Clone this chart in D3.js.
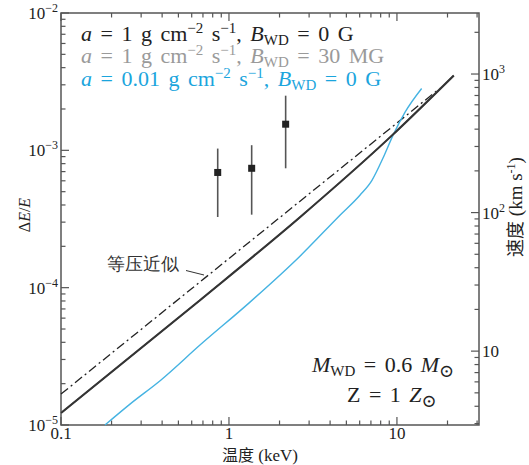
<!DOCTYPE html>
<html><head><meta charset="utf-8">
<script src="https://cdn.jsdelivr.net/npm/d3@7"></script>
<style>
body{margin:0;background:#fff;}
text{font-family:"Liberation Serif","DejaVu Serif",serif;}
</style></head>
<body><svg id="c" width="529" height="465"></svg>
<script>
// ---- data ----
const temperatureKeV_solid = [0.1, 0.672, 2.646, 9.08, 21.8];
const dEE_solid = [1.223e-5, 8.11e-5, 3.26e-4, 1.243e-3, 3.51e-3];
const temperatureKeV_gray = [0.1, 0.672, 2.646, 9.08, 21.8];
const dEE_gray = [1.223e-5, 8.11e-5, 3.26e-4, 1.243e-3, 3.51e-3];
const temperatureKeV_blue = [0.1827, 0.2575, 0.3923, 0.672, 1.334, 2.646, 4.58, 6.02, 7.10, 8.25, 9.47, 11.16, 14.03];
const dEE_blue = [1.0e-5, 1.42e-5, 2.12e-5, 3.82e-5, 7.85e-5, 1.695e-4, 3.37e-4, 4.71e-4, 6.05e-4, 8.75e-4, 1.285e-3, 1.89e-3, 2.82e-3];
const temperatureKeV_isobaric = [0.1, 18.03];
const dEE_isobaric = [1.68e-5, 2.83e-3];
const obsT = [0.857, 1.365, 2.175];
const obsVal = [6.9e-4, 7.4e-4, 1.55e-3];
const obsLo = [3.27e-4, 3.4e-4, 7.4e-4];
const obsHi = [1.03e-3, 1.09e-3, 2.5e-3];
const xTickLabels = ["0.1", "1", "10"];
const yTickExp = ["−2", "−3", "−4", "−5"];
const vTickExp = ["3", "2", ""];

const svg = d3.select("#c");
const L = 61, R = 479, T = 13, B = 425;
const x = d3.scaleLog().domain([0.1, 30.8]).range([L, R]);
const y = d3.scaleLog().domain([1e-5, 1e-2]).range([B, T]);
const yv = d3.scaleLog().domain([2.93, 2757]).range([B, T]);
const axisCol = "#555";

function logTicks(lo, hi) {
  const out = [];
  for (let e = Math.floor(Math.log10(lo)); e <= Math.ceil(Math.log10(hi)); e++) {
    for (let m = 1; m <= 9; m++) {
      const v = m * Math.pow(10, e);
      if (v >= lo * 0.9999 && v <= hi * 1.0001) out.push({v, major: m === 1});
    }
  }
  return out;
}
const g = svg.append("g");
logTicks(0.1, 30.8).forEach(t => {
  const len = t.major ? 8 : 4.5;
  const px = x(t.v);
  g.append("line").attr("x1", px).attr("x2", px).attr("y1", B).attr("y2", B - len).attr("stroke", axisCol).attr("stroke-width", 1.2);
  g.append("line").attr("x1", px).attr("x2", px).attr("y1", T).attr("y2", T + len).attr("stroke", axisCol).attr("stroke-width", 1.2);
});
logTicks(1e-5, 1e-2).forEach(t => {
  const len = t.major ? 8 : 4.5;
  const py = y(t.v);
  g.append("line").attr("x1", L).attr("x2", L + len).attr("y1", py).attr("y2", py).attr("stroke", axisCol).attr("stroke-width", 1.2);
});
logTicks(2.93, 2757).forEach(t => {
  const len = t.major ? 8 : 4.5;
  const py = yv(t.v);
  g.append("line").attr("x1", R).attr("x2", R - len).attr("y1", py).attr("y2", py).attr("stroke", axisCol).attr("stroke-width", 1.2);
});
svg.append("rect").attr("x", L).attr("y", T).attr("width", R - L).attr("height", B - T)
  .attr("fill", "none").attr("stroke", axisCol).attr("stroke-width", 1.5);

// tick labels
[0.1, 1, 10].forEach((v, i) => {
  svg.append("text").attr("x", x(v)).attr("y", 439).attr("text-anchor", "middle")
    .attr("font-size", 17).attr("fill", "#222").text(xTickLabels[i]);
});
[1e-2, 1e-3, 1e-4, 1e-5].forEach((v, i) => {
  const t = svg.append("text").attr("x", 58).attr("y", y(v) + 6).attr("text-anchor", "end")
    .attr("font-size", 17).attr("fill", "#222");
  t.append("tspan").text("10");
  t.append("tspan").attr("dy", -7).attr("font-size", 12).text(yTickExp[i]);
});
[1000, 100, 10].forEach((v, i) => {
  const t = svg.append("text").attr("x", 482).attr("y", yv(v) + 6)
    .attr("font-size", 17).attr("fill", "#222");
  t.append("tspan").text("10");
  if (vTickExp[i]) t.append("tspan").attr("dy", -7).attr("font-size", 12).text(vTickExp[i]);
});

// axis titles
svg.append("text").attr("x", 260).attr("y", 461).attr("text-anchor", "middle").attr("font-size", 17).attr("fill", "#222")
  .html('<tspan font-family="Noto Sans CJK SC" font-size="16">温度</tspan> (keV)');
svg.append("text").attr("transform", "translate(30,215) rotate(-90)").attr("text-anchor", "middle")
  .attr("font-size", 16).attr("fill", "#222")
  .html('Δ<tspan font-style="italic">E</tspan>/<tspan font-style="italic">E</tspan>');
svg.append("text").attr("transform", "translate(522,207) rotate(-90)").attr("text-anchor", "middle")
  .attr("font-size", 19).attr("fill", "#222")
  .html('<tspan font-family="Noto Sans CJK SC" font-size="18">速度</tspan> (km s<tspan dy="-7" font-size="12">-1</tspan><tspan dy="7">)</tspan>');

// curves
const line = d3.line().x(d => x(d[0])).y(d => y(d[1])).curve(d3.curveMonotoneX);
const plot = svg.append("g");
plot.append("path").datum(d3.zip(temperatureKeV_isobaric, dEE_isobaric)).attr("d", line)
  .attr("fill", "none").attr("stroke", "#222").attr("stroke-width", 1.3).attr("stroke-dasharray", "9,3.5,2,3.5");
plot.append("path").datum(d3.zip(temperatureKeV_blue, dEE_blue)).attr("d", line)
  .attr("fill", "none").attr("stroke", "#45b3e2").attr("stroke-width", 1.4);
plot.append("path").datum(d3.zip(temperatureKeV_gray, dEE_gray)).attr("d", line)
  .attr("fill", "none").attr("stroke", "#999").attr("stroke-width", 2);
plot.append("path").datum(d3.zip(temperatureKeV_solid, dEE_solid)).attr("d", line)
  .attr("fill", "none").attr("stroke", "#333").attr("stroke-width", 2);

// observations
obsT.forEach((t, i) => {
  plot.append("line").attr("x1", x(t)).attr("x2", x(t)).attr("y1", y(obsLo[i])).attr("y2", y(obsHi[i]))
    .attr("stroke", "#555").attr("stroke-width", 1.6);
  plot.append("rect").attr("x", x(t) - 3.5).attr("y", y(obsVal[i]) - 3.5).attr("width", 7).attr("height", 7).attr("fill", "#222");
});

// isobaric annotation
svg.append("text").attr("x", 107).attr("y", 270).attr("font-family", "Noto Sans CJK SC").attr("font-size", 17.5)
  .attr("fill", "#333").text("等压近似");
svg.append("line").attr("x1", 186).attr("y1", 270.5).attr("x2", 204).attr("y2", 275).attr("stroke", "#333").attr("stroke-width", 1);

// legend
function legendLine(yb, col, aval, bval) {
  const t = svg.append("text").attr("x", 81).attr("y", yb).attr("font-size", 22).attr("fill", col)
    .style("word-spacing", "3px");
  t.append("tspan").attr("font-style", "italic").text("a");
  t.append("tspan").text(" = " + aval + " g cm");
  t.append("tspan").attr("dy", -8).attr("font-size", 15).text("−2");
  t.append("tspan").attr("dy", 8).text(" s");
  t.append("tspan").attr("dy", -8).attr("font-size", 15).text("−1");
  t.append("tspan").attr("dy", 8).text(", ");
  t.append("tspan").attr("font-style", "italic").text("B");
  t.append("tspan").attr("dy", 4).attr("font-size", 15).text("WD");
  t.append("tspan").attr("dy", -4).text(" = " + bval);
}
legendLine(41, "#222", "1", "0 G");
legendLine(63, "#9a9a9a", "1", "30 MG");
legendLine(86, "#1ba5dd", "0.01", "0 G");

// parameters
const p1 = svg.append("text").attr("x", 312).attr("y", 372).attr("font-size", 22).attr("fill", "#222").style("word-spacing", "3px");
p1.append("tspan").attr("font-style", "italic").text("M");
p1.append("tspan").attr("dy", 4).attr("font-size", 15).text("WD");
p1.append("tspan").attr("dy", -4).text(" = 0.6 ");
p1.append("tspan").attr("font-style", "italic").text("M");
p1.append("tspan").attr("dy", 5).attr("font-size", 18).text("⊙");
const p2 = svg.append("text").attr("x", 347).attr("y", 402).attr("font-size", 22).attr("fill", "#222").style("word-spacing", "3px");
p2.append("tspan").text("Z = 1 ");
p2.append("tspan").attr("font-style", "italic").text("Z");
p2.append("tspan").attr("dy", 5).attr("font-size", 18).text("⊙");
</script></body></html>
